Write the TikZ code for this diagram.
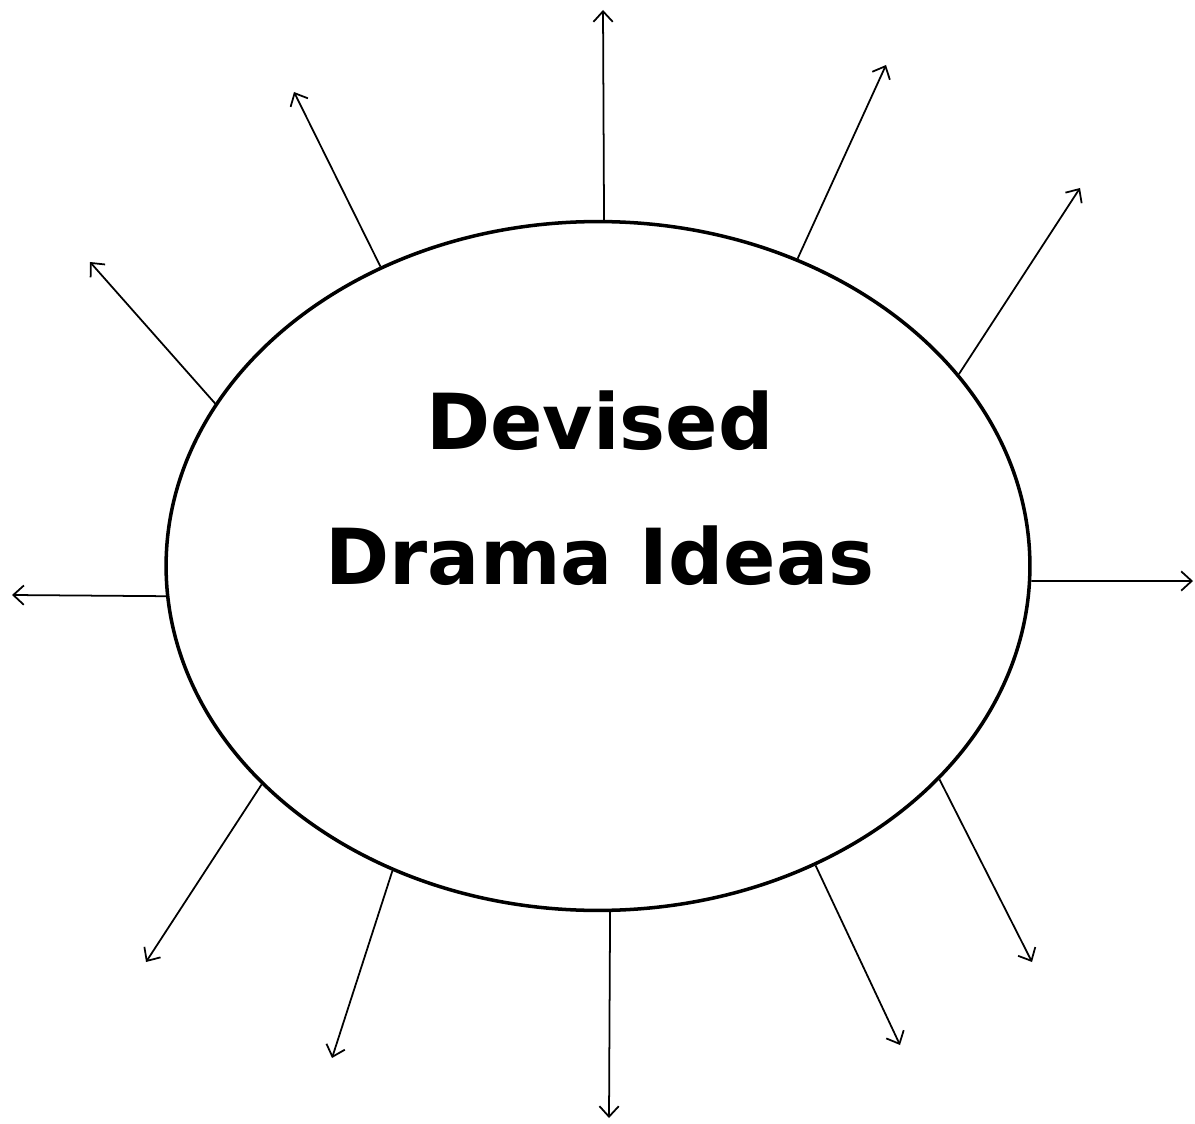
\documentclass[tikz,border=0pt]{standalone}
\usepackage{fontspec}
\setmainfont{DejaVu Sans}
\usepackage{tikz}
\usetikzlibrary{arrows.meta,shapes.geometric}

\begin{document}
\begin{tikzpicture}[
  x=0.02cm, y=-0.02cm,
  ideanode/.style={draw, ellipse, line width=2pt, inner sep=0pt,
                   minimum width=17.28cm, minimum height=13.78cm},
  titlenode/.style={font=\fontsize{44}{77}\selectfont\bfseries, align=center},
  ray/.style={draw, line width=1pt, -{Straight Barb[length=6pt, width=11pt]}},
]
  \useasboundingbox (0,0) rectangle (1195,1124);

  % Centre ellipse and its title
  \node[ideanode] (idea) at (598,566) {};
  \node[titlenode] (title) at (600,488) {Devised\\Drama Ideas};

  % Free ends of the rays
  \coordinate (n)   at (603,10);
  \coordinate (nne) at (886,65);
  \coordinate (ene) at (1080,188);
  \coordinate (e)   at (1193,581);
  \coordinate (ese) at (1032,962);
  \coordinate (sse) at (900,1045);
  \coordinate (s)   at (609,1118);
  \coordinate (ssw) at (332,1058);
  \coordinate (wsw) at (146,962);
  \coordinate (w)   at (12,595);
  \coordinate (wnw) at (90,262);
  \coordinate (nnw) at (294,92);

  % Rays out of the ellipse
  \draw[ray] (idea.89)    -- (n);
  \draw[ray] (idea.57.4)  -- (nne);
  \draw[ray] (idea.28.8)  -- (ene);
  \draw[ray] (idea.-2)    -- (e);
  \draw[ray] (idea.-32.6) -- (ese);
  \draw[ray] (idea.-54.9) -- (sse);
  \draw[ray] (idea.-88.5) -- (s);
  \draw[ray] (idea.236.7) -- (ssw);
  \draw[ray] (idea.213.1) -- (wsw);
  \draw[ray] (idea.184.3) -- (w);
  \draw[ray] (idea.157.7) -- (wnw);
  \draw[ray] (idea.126.7) -- (nnw);
\end{tikzpicture}
\end{document}
